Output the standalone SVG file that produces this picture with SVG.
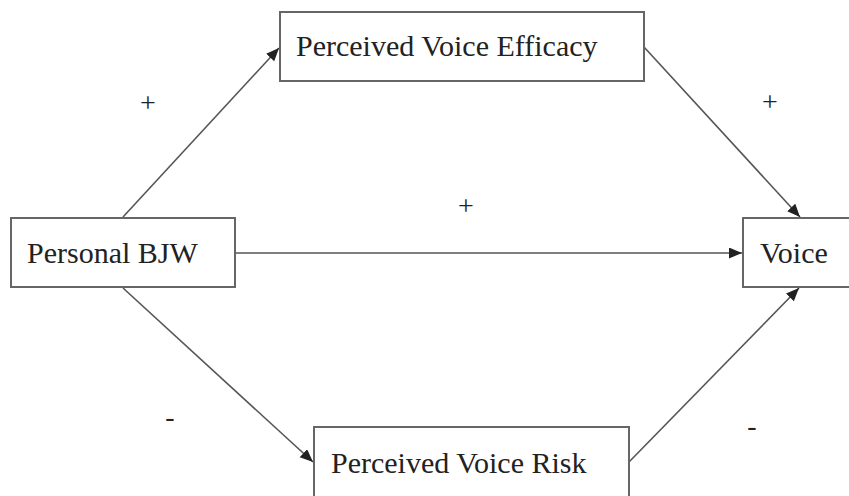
<svg xmlns="http://www.w3.org/2000/svg" width="849" height="496" viewBox="0 0 849 496">
<style>
.box{fill:#fff;stroke:#666;stroke-width:2}
.lbl{font-family:'Liberation Serif','DejaVu Serif',serif;font-size:30px;fill:#222}
.sgn{font-family:'Liberation Serif','DejaVu Serif',serif;font-size:28px;fill:#222;text-anchor:middle}
.edge{stroke:#555;stroke-width:1.6;fill:none;marker-end:url(#arr)}
</style>
<defs>
<marker id="arr" markerUnits="userSpaceOnUse" markerWidth="14" markerHeight="12" refX="13" refY="5.5" orient="auto">
<path d="M0,0 L13,5.5 L0,11 z" fill="#222"/>
</marker>
</defs>
<rect width="849" height="496" fill="#fff"/>
<g id="connectors">
<line class="edge" x1="123" y1="217" x2="279" y2="48"/>
<line class="edge" x1="644" y1="47" x2="800" y2="217"/>
<line class="edge" x1="235" y1="253" x2="742" y2="253"/>
<line class="edge" x1="123" y1="288" x2="313" y2="462"/>
<line class="edge" x1="629" y1="462" x2="799" y2="288"/>
</g>
<g id="signs">
<text class="sgn" x="148" y="112">+</text>
<text class="sgn" x="770" y="111">+</text>
<text class="sgn" x="466" y="215">+</text>
<text class="sgn" x="170" y="426">-</text>
<text class="sgn" x="752" y="435">-</text>
</g>
<g id="node-pve">
<rect class="box" x="280" y="12" width="364" height="69"/>
<text class="lbl" x="296" y="56" font-family="Liberation Serif, serif">Perceived Voice Efficacy</text>
</g>
<g id="node-bjw">
<rect class="box" x="11" y="218" width="224" height="69"/>
<text class="lbl" x="27" y="263">Personal BJW</text>
</g>
<g id="node-voice">
<rect class="box" x="743" y="218" width="115" height="69"/>
<text class="lbl" x="760" y="263">Voice</text>
</g>
<g id="node-pvr">
<rect class="box" x="314" y="427" width="315" height="80"/>
<text class="lbl" x="331" y="473">Perceived Voice Risk</text>
</g>
</svg>
